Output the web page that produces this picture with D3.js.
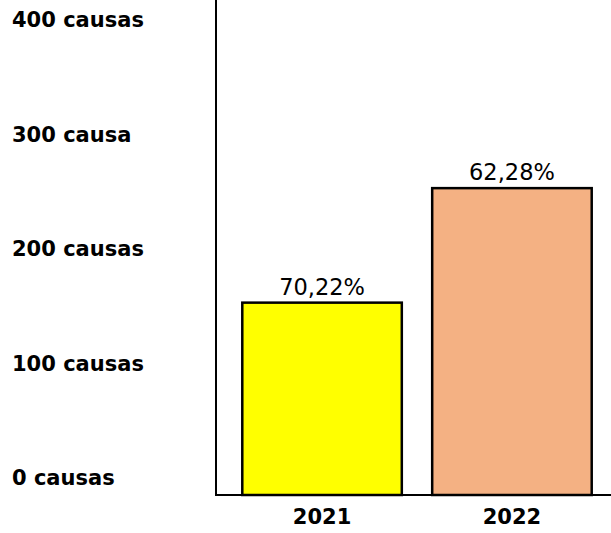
<!DOCTYPE html>
<meta charset="utf-8">
<style>
body { margin: 0; background: #fff; }
text { font-family: "DejaVu Sans", sans-serif; fill: #000; }
</style>
<body>
<script src="https://d3js.org/d3.v7.min.js"></script>
<script>
var years = ["2021", "2022"];
var causas = [168, 268];
var percents = ["70,22%", "62,28%"];
var colors = ["#ffff00", "#f4b183"];
var tickValues = [0, 100, 200, 300, 400];
var tickLabels = ["0 causas", "100 causas", "200 causas", "300 causa", "400 causas"];

var width = 611, height = 533;
var svg = d3.select("body").append("svg")
    .attr("width", width)
    .attr("height", height);

var y = d3.scaleLinear().domain([0, 400]).range([495, 37]);
var x = d3.scaleBand().domain(years).range([229, 605]).paddingInner(0.16).paddingOuter(0.07);

// y tick labels, placed above the gridline positions like the source
svg.selectAll(".ylab")
    .data(tickValues)
  .enter().append("text")
    .attr("class", "ylab")
    .attr("x", 12)
    .attr("y", function(d) { return y(d) - 17; })
    .attr("dy", "0.35em")
    .style("font-size", "21px")
    .style("font-weight", "bold")
    .text(function(d, i) { return tickLabels[i]; });

// bars
svg.selectAll(".bar")
    .data(causas)
  .enter().append("rect")
    .attr("class", "bar")
    .attr("x", function(d, i) { return x(years[i]); })
    .attr("width", x.bandwidth())
    .attr("y", function(d) { return y(d); })
    .attr("height", function(d) { return y(0) - y(d); })
    .attr("fill", function(d, i) { return colors[i]; })
    .attr("stroke", "#000")
    .attr("stroke-width", 2.5);

// value labels
svg.selectAll(".val")
    .data(causas)
  .enter().append("text")
    .attr("class", "val")
    .attr("x", function(d, i) { return x(years[i]) + x.bandwidth() / 2; })
    .attr("y", function(d) { return y(d) - 8; })
    .attr("text-anchor", "middle")
    .style("font-size", "22.5px")
    .text(function(d, i) { return percents[i]; });

// axes lines
svg.append("line")
    .attr("x1", 216).attr("x2", 216)
    .attr("y1", 0).attr("y2", y(0) + 1)
    .attr("stroke", "#000").attr("stroke-width", 2);
svg.append("line")
    .attr("x1", 215).attr("x2", width)
    .attr("y1", y(0)).attr("y2", y(0))
    .attr("stroke", "#000").attr("stroke-width", 2);

// category labels
svg.selectAll(".xlab")
    .data(years)
  .enter().append("text")
    .attr("class", "xlab")
    .attr("x", function(d) { return x(d) + x.bandwidth() / 2; })
    .attr("y", 517)
    .attr("dy", "0.35em")
    .attr("text-anchor", "middle")
    .style("font-size", "21px")
    .style("font-weight", "bold")
    .text(function(d) { return d; });
</script>
</body>
